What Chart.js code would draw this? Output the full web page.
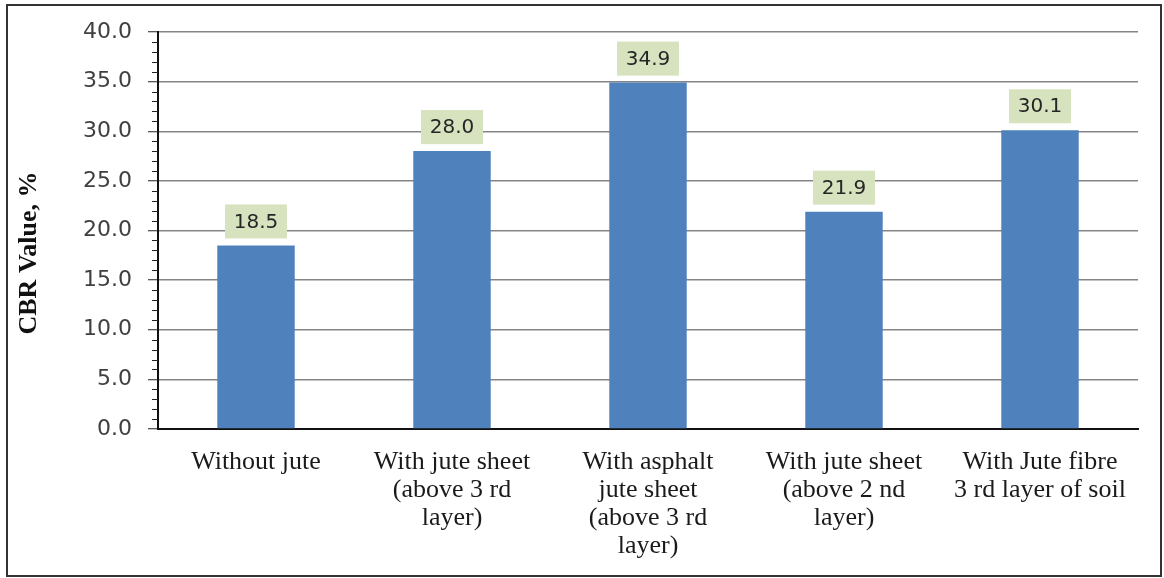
<!DOCTYPE html>
<html>
<head>
<meta charset="utf-8">
<script src="https://cdn.jsdelivr.net/npm/chart.js@4.4.1/dist/chart.umd.min.js"></script>
<style>
  html, body { margin: 0; padding: 0; background: #ffffff; }
  #wrap { width: 1164px; height: 578px; }
</style>
</head>
<body>
<div id="wrap"><canvas id="cbr" width="1164" height="578"></canvas></div>
<script>
// Treatment categories (multi-line axis labels)
const categories = [
  ['Without jute'],
  ['With jute sheet', '(above 3 rd', 'layer)'],
  ['With asphalt', 'jute sheet', '(above 3 rd', 'layer)'],
  ['With jute sheet', '(above 2 nd', 'layer)'],
  ['With Jute fibre', '3 rd layer of soil']
];

// CBR value, % for each treatment
const cbrValues = [18.5, 28.0, 34.9, 21.9, 30.1];

// Value axis ticks
const yTicks = [0, 5, 10, 15, 20, 25, 30, 35, 40];
const yMinorStep = 1;

const axisTitle = 'CBR Value, %';

// White page with a dark frame around the whole figure
const framePlugin = {
  id: 'frame',
  beforeDraw(chart) {
    const ctx = chart.ctx;
    ctx.save();
    ctx.fillStyle = '#ffffff';
    ctx.fillRect(0, 0, chart.width, chart.height);
    ctx.strokeStyle = '#333333';
    ctx.lineWidth = 2;
    ctx.strokeRect(7, 5, 1154, 571);
    ctx.restore();
  }
};

// Short minor tick marks on the value axis
const minorTicksPlugin = {
  id: 'minorTicks',
  afterDraw(chart) {
    const y = chart.scales.y;
    const ctx = chart.ctx;
    const x0 = y.right;
    ctx.save();
    ctx.strokeStyle = '#222222';
    ctx.lineWidth = 1;
    for (let v = y.min; v <= y.max; v += yMinorStep) {
      if (yTicks.includes(v)) continue;
      const py = Math.round(y.getPixelForValue(v)) + 0.5;
      ctx.beginPath();
      ctx.moveTo(x0 - 6, py);
      ctx.lineTo(x0, py);
      ctx.stroke();
    }
    ctx.restore();
  }
};

// Value labels in shaded boxes above each bar
const valueLabelPlugin = {
  id: 'valueLabels',
  afterDatasetsDraw(chart) {
    const ctx = chart.ctx;
    const meta = chart.getDatasetMeta(0);
    ctx.save();
    ctx.font = '20px "DejaVu Sans", Verdana, sans-serif';
    ctx.textAlign = 'center';
    ctx.textBaseline = 'middle';
    meta.data.forEach((bar, i) => {
      const txt = cbrValues[i].toFixed(1);
      const w = 62, h = 34;
      const cx = bar.x;
      const cy = bar.y - 7 - h / 2;
      ctx.fillStyle = '#d7e3bf';
      ctx.fillRect(cx - w / 2, cy - h / 2, w, h);
      ctx.fillStyle = '#262626';
      ctx.fillText(txt, cx, cy + 1);
    });
    ctx.restore();
  }
};

// Rotated value-axis title
const axisTitlePlugin = {
  id: 'axisTitle',
  afterDraw(chart) {
    const ctx = chart.ctx;
    ctx.save();
    ctx.translate(29, 253);
    ctx.rotate(-Math.PI / 2);
    ctx.font = 'bold 26px "Liberation Serif", "Times New Roman", serif';
    ctx.fillStyle = '#111111';
    ctx.textAlign = 'center';
    ctx.textBaseline = 'middle';
    ctx.fillText(axisTitle, 0, 0);
    ctx.restore();
  }
};

new Chart(document.getElementById('cbr'), {
  type: 'bar',
  data: {
    labels: categories,
    datasets: [{
      data: cbrValues,
      backgroundColor: '#4f81bd',
      borderWidth: 0,
      barPercentage: 0.395,
      categoryPercentage: 1.0
    }]
  },
  options: {
    responsive: false,
    animation: false,
    devicePixelRatio: 1,
    layout: { padding: { top: 32, right: 26, left: 0, bottom: 0 } },
    plugins: {
      legend: { display: false },
      tooltip: { enabled: false }
    },
    scales: {
      x: {
        grid: { display: false, drawTicks: false },
        border: { display: true, color: '#111111', width: 2 },
        ticks: {
          color: '#1a1a1a',
          font: { family: '"Liberation Serif", "Times New Roman", serif', size: 26, lineHeight: '28px' },
          padding: 19,
          maxRotation: 0,
          autoSkip: false
        },
        afterFit(scale) { scale.height = 149; }
      },
      y: {
        min: 0,
        max: 40,
        afterBuildTicks(scale) { scale.ticks = yTicks.map(v => ({ value: v })); },
        grid: {
          color: '#858585',
          lineWidth: 1.5,
          tickColor: '#222222',
          tickLength: 10,
          tickWidth: 1
        },
        border: { display: true, color: '#111111', width: 2 },
        ticks: {
          color: '#404040',
          font: { family: '"DejaVu Sans", Verdana, sans-serif', size: 22 },
          padding: 16,
          callback: v => Number(v).toFixed(1)
        },
        afterFit(scale) { scale.width = 158; }
      }
    }
  },
  plugins: [framePlugin, minorTicksPlugin, valueLabelPlugin, axisTitlePlugin]
});
</script>
</body>
</html>
